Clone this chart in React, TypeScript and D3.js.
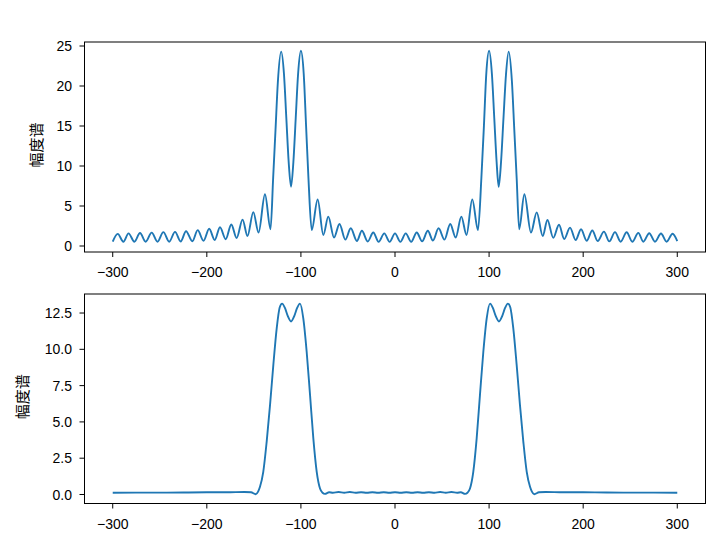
import React from "react";
import * as d3 from "d3";

// ---------- data ----------
const topFreq = [
  -300, -294.7, -288.7, -283.2, -277.0, -271.0, -265.0, -258.6, -252.4, -246.2, -240.0, -233.8,
  -227.8, -222.1, -215.4, -209.7, -203.5, -197.5, -191.6, -186.0, -179.9, -174.0, -168.3, -162.0,
  -156.8, -150.6, -145.0, -138.2, -132.3, -129.5, -127.0, -124.5, -121.0, -118.0, -115.5, -113.0,
  -110.5, -108.0, -105.5, -103.0, -100.0, -97.0, -94.5, -92.0, -88.5, -82.2, -76.2, -70.9, -64.8,
  -59.0, -52.8, -47.0, -40.5, -35.2, -29.0, -23.1, -17.4, -11.4, -5.7, 0,
  5.7, 11.4, 17.2, 23.1, 28.8, 34.9, 40.3, 46.3, 52.6, 58.7, 64.5, 70.5, 76.0, 82.1, 88.2, 91.8,
  94.5, 97, 100, 103, 105.5, 108, 110.2, 112.7, 115.3, 118, 120.8, 124.3, 126.8, 129.3, 132,
  137.5, 144.5, 150.6, 157, 162, 168.2, 174.3, 179.9, 186, 192, 197.7, 203.7, 209.7, 215.4, 222.1,
  227.7, 233.8, 239.8, 246.2, 252.2, 258.6, 263.9, 270.2, 276.3, 282.7, 288.7, 295, 300,
];
const topAmp = [
  0.55, 1.52, 0.54, 1.58, 0.54, 1.62, 0.54, 1.67, 0.54, 1.73, 0.54, 1.77,
  0.57, 1.85, 0.6, 1.98, 0.65, 2.15, 0.75, 2.35, 0.85, 2.69, 1.0, 3.3,
  1.25, 4.23, 1.67, 6.46, 2.1, 8.5, 14.5, 20.5, 24.3, 21.5, 16.0, 10.5,
  7.4, 10.5, 16.0, 21.5, 24.4, 21.5, 15.0, 8.5, 2.0, 5.83, 1.38, 3.67, 1.06,
  2.75, 0.8, 2.21, 0.63, 1.9, 0.56, 1.69, 0.52, 1.58, 0.52, 1.58,
  0.52, 1.58, 0.52, 1.69, 0.58, 1.9, 0.68, 2.21, 0.8, 2.75, 1.06, 3.67, 1.38, 5.83, 2.0, 8.5,
  15, 21.5, 24.4, 21.5, 16, 10.5, 7.4, 10.5, 16, 21.5, 24.3, 20.5, 14.5, 8.5, 2.1,
  6.46, 1.67, 4.2, 1.25, 3.25, 1.02, 2.65, 0.87, 2.3, 0.75, 2.1, 0.66, 1.94, 0.62, 1.8,
  0.58, 1.73, 0.54, 1.71, 0.54, 1.64, 0.54, 1.6, 0.54, 1.56, 0.54, 1.54, 0.62,
];

const bottomFreq = [
  -300, -275, -250, -225, -200, -175, -160, -153, -148, -145.5, -143.5, -140, -136.4, -132.8,
  -129.3, -125.7, -122.5, -120, -117, -114, -110.5, -107, -104, -101, -97.5, -93.9, -90.3, -86.8,
  -83.2, -79.7, -77, -74.5, -70, -66, -60, -54, -48, -42, -36, -30, -24, -18, -12, -6, 0,
  6, 12, 18, 24, 30, 36, 42, 48, 54, 60, 66, 70, 74.5, 77, 79.7, 83.2, 86.8, 90.3, 93.9, 97.5,
  101, 104, 107, 110.5, 114, 117, 120, 122.5, 125.7, 129.3, 132.8, 136.4, 140, 143.5, 145.5, 148,
  153, 160, 175, 200, 225, 250, 275, 300,
];
const bottomAmp = [
  0.12, 0.13, 0.13, 0.14, 0.15, 0.16, 0.17, 0.15, 0.02, 0.2, 0.53, 1.56, 3.63, 6.17,
  8.93, 11.46, 12.9, 13.15, 12.85, 12.3, 11.92, 12.3, 12.85, 13.15, 12.15, 9.85, 6.86, 3.87,
  1.56, 0.41, 0.12, 0.04, 0.15, 0.12, 0.17, 0.12, 0.17, 0.12, 0.16, 0.12, 0.16, 0.12, 0.16, 0.12, 0.16,
  0.12, 0.16, 0.12, 0.16, 0.12, 0.16, 0.12, 0.17, 0.12, 0.17, 0.12, 0.15, 0.04, 0.12, 0.41, 1.56, 3.87, 6.86, 9.85, 12.15,
  13.15, 12.85, 12.3, 11.92, 12.3, 12.85, 13.15, 12.9, 11.46, 8.93, 6.17, 3.63, 1.56, 0.53, 0.2, 0.02,
  0.15, 0.17, 0.16, 0.15, 0.14, 0.13, 0.13, 0.12,
];

const xTicks = [-300, -200, -100, 0, 100, 200, 300];
const topYTicks = [0, 5, 10, 15, 20, 25];
const topYLabels = ["0", "5", "10", "15", "20", "25"];
const bottomYTicks = [0, 2.5, 5, 7.5, 10, 12.5];
const bottomYLabels = ["0.0", "2.5", "5.0", "7.5", "10.0", "12.5"];
const yLabelText = "幅度谱";

// ---------- layout ----------
const W = 726;
const H = 547;
const xLeft = 84.5;
const xRight = 705.5;
const panels = [
  { top: 42, bottom: 252, domain: [-0.75, 25.5], freq: topFreq, amp: topAmp, ticks: topYTicks, labels: topYLabels, ylabX: 37 },
  { top: 294, bottom: 503.5, domain: [-0.62, 13.81], freq: bottomFreq, amp: bottomAmp, ticks: bottomYTicks, labels: bottomYLabels, ylabX: 23 },
];

const numFont = "'Liberation Sans', Arial, sans-serif";
const cjkFont = "'Noto Sans CJK SC', sans-serif";
const fs = 14;
const tickLen = 5;

function fmtX(v: number) {
  return v < 0 ? "\u2212" + Math.abs(v) : String(v);
}

export default function App() {
  const x = d3.scaleLinear().domain([-330, 330]).range([xLeft, xRight]);
  return (
    <svg width={W} height={H} style={{ position: "absolute", left: 0, top: 0, background: "#fff" }}>
      <rect width={W} height={H} fill="#fff" />
      {panels.map((p, pi) => {
        const y = d3.scaleLinear().domain(p.domain).range([p.bottom, p.top]);
        const pts = p.freq.map((f, i) => [f, p.amp[i]] as [number, number]);
        const line = d3
          .line<[number, number]>()
          .x((d) => x(d[0]))
          .y((d) => y(d[1]))
          .curve(d3.curveMonotoneX);
        return (
          <g key={pi}>
            <defs>
              <clipPath id={`clip${pi}`}>
                <rect x={xLeft} y={p.top} width={xRight - xLeft} height={p.bottom - p.top} />
              </clipPath>
            </defs>
            <path d={line(pts) || ""} fill="none" stroke="#1f77b4" strokeWidth={1.9} strokeLinejoin="round" clipPath={`url(#clip${pi})`} />
            <rect x={xLeft} y={p.top} width={xRight - xLeft} height={p.bottom - p.top} fill="none" stroke="#000" strokeWidth={1} />
            {xTicks.map((t) => (
              <g key={t}>
                <line x1={x(t)} x2={x(t)} y1={p.bottom} y2={p.bottom + tickLen} stroke="#000" strokeWidth={1} />
                <text x={x(t)} y={p.bottom + 25} textAnchor="middle" fontFamily={numFont} fontSize={fs} fill="#000">
                  {fmtX(t)}
                </text>
              </g>
            ))}
            {p.ticks.map((t, i) => (
              <g key={t}>
                <line x1={xLeft - tickLen} x2={xLeft} y1={y(t)} y2={y(t)} stroke="#000" strokeWidth={1} />
                <text x={xLeft - tickLen - 7.5} y={y(t)} dy="0.36em" textAnchor="end" fontFamily={numFont} fontSize={fs} fill="#000">
                  {p.labels[i]}
                </text>
              </g>
            ))}
            <text
              transform={`translate(${p.ylabX},${(p.top + p.bottom) / 2 - 2}) rotate(-90)`}
              textAnchor="middle"
              dy="0.35em"
              fontFamily={cjkFont}
              fontSize={15}
              fill="#000"
            >
              {yLabelText}
            </text>
          </g>
        );
      })}
    </svg>
  );
}
